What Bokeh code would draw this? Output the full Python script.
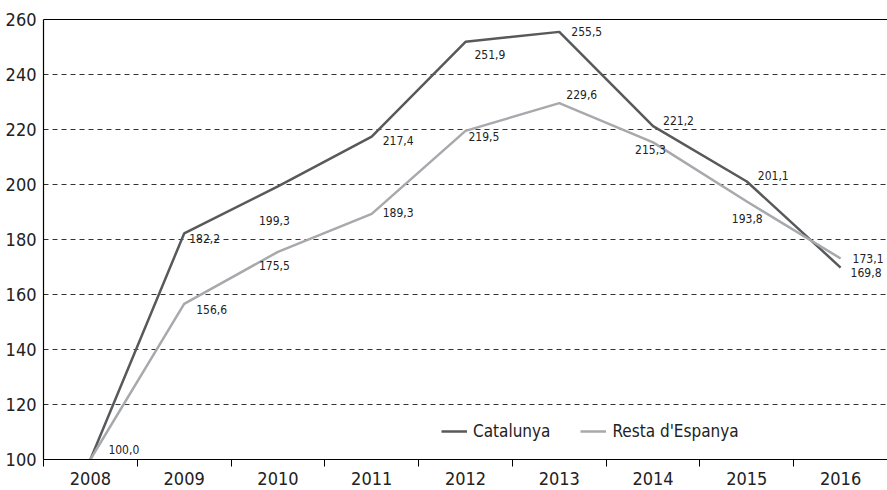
from bokeh.plotting import figure
from bokeh.models import (ColumnDataSource, FixedTicker, LinearAxis, Legend, LegendItem,
                          Range1d)
from bokeh.embed import file_html
from bokeh.resources import INLINE
from bokeh.core.properties import value

years = ["2008", "2009", "2010", "2011", "2012", "2013", "2014", "2015", "2016"]
catalunya = [100.0, 182.2, 199.3, 217.4, 251.9, 255.5, 221.2, 201.1, 169.8]
resta = [100.0, 156.6, 175.5, 189.3, 219.5, 229.6, 215.3, 193.8, 173.1]
y_ticks = [100, 120, 140, 160, 180, 200, 220, 240, 260]

# label pixel offsets (style only)
cat_dx = [18, 5, -19, 11, 9, 12, 10, 11, 10]
cat_dy = [-10, 5, 34, 4, 13, 0, -6, -6, 5]
res_dx = [18, 12, -19, 11, 3, 7, -18, -15, 12]
res_dy = [-10, 6, 14, -1, 6, -9, 7, 17, 0]

FONT = "DejaVu Sans Condensed"
C_CAT = "#58595b"
C_RES = "#a7a9ac"

xs = list(range(len(years)))


def fmt(v):
    return f"{v:.1f}".replace(".", ",")


p = figure(width=887, height=490, output_backend="svg", toolbar_location=None,
           x_range=Range1d(-0.5, len(years) - 0.5), y_range=Range1d(100, 260),
           min_border_left=43, min_border_right=0, min_border_top=19, min_border_bottom=31,
           x_axis_location=None, y_axis_location=None)
p.outline_line_color = None
p.background_fill_color = "white"
p.border_fill_color = "white"

# x axis: labels at category centres, ticks at boundaries
xaxis = LinearAxis(ticker=FixedTicker(ticks=xs, minor_ticks=[i - 0.5 for i in range(len(years) + 1)]),
                   major_label_overrides={i: y for i, y in enumerate(years)})
xaxis.major_tick_out = 0
xaxis.major_tick_in = 0
xaxis.minor_tick_out = 7
xaxis.minor_tick_in = 0
xaxis.minor_tick_line_color = "black"
xaxis.axis_line_color = "black"
xaxis.axis_line_width = 1.2
xaxis.major_label_standoff = 5
xaxis.major_label_text_font = FONT
xaxis.major_label_text_font_size = "18px"
xaxis.major_label_text_color = "#222222"
p.add_layout(xaxis, "below")

yaxis = LinearAxis(ticker=FixedTicker(ticks=y_ticks))
yaxis.major_tick_out = 0
yaxis.major_tick_in = 0
yaxis.minor_tick_out = 0
yaxis.minor_tick_in = 0
yaxis.axis_line_color = "black"
yaxis.axis_line_width = 1.2
yaxis.major_label_standoff = 7
yaxis.major_label_text_font = FONT
yaxis.major_label_text_font_size = "18px"
yaxis.major_label_text_color = "#222222"
p.add_layout(yaxis, "left")

top = LinearAxis(ticker=FixedTicker(ticks=[]))
top.major_tick_out = 0
top.major_tick_in = 0
top.minor_tick_out = 0
top.axis_line_color = "black"
top.axis_line_width = 1.2
top.major_label_text_font_size = "0px"
p.add_layout(top, "above")

p.xgrid.visible = False
p.ygrid.ticker = FixedTicker(ticks=y_ticks[1:-1])
p.ygrid.grid_line_color = "#333333"
p.ygrid.grid_line_dash = "5 4"
p.ygrid.grid_line_width = 1

r_cat = p.line(xs, catalunya, line_color=C_CAT, line_width=2.5)
r_res = p.line(xs, resta, line_color=C_RES, line_width=2.5)

cat_src = ColumnDataSource(dict(x=xs[1:], y=catalunya[1:], t=[fmt(v) for v in catalunya[1:]],
                                dx=cat_dx[1:], dy=cat_dy[1:]))
res_src = ColumnDataSource(dict(x=xs, y=resta, t=[fmt(v) for v in resta],
                                dx=res_dx, dy=res_dy))
for src in (cat_src, res_src):
    p.text(x="x", y="y", text="t", x_offset="dx", y_offset="dy", source=src,
           text_font=value(FONT), text_font_size="12px", text_color="#222222",
           text_align="left", text_baseline="middle")

legend = Legend(items=[LegendItem(label="Catalunya", renderers=[r_cat]),
                       LegendItem(label="Resta d'Espanya", renderers=[r_res])],
                orientation="horizontal", location=(398, 18),
                label_text_font=FONT, label_text_font_size="17px", label_text_color="#222222",
                glyph_width=26, spacing=30, border_line_color=None,
                background_fill_alpha=0, label_standoff=6)
p.add_layout(legend, "center")

open("out.html", "w").write(file_html(p, INLINE))
